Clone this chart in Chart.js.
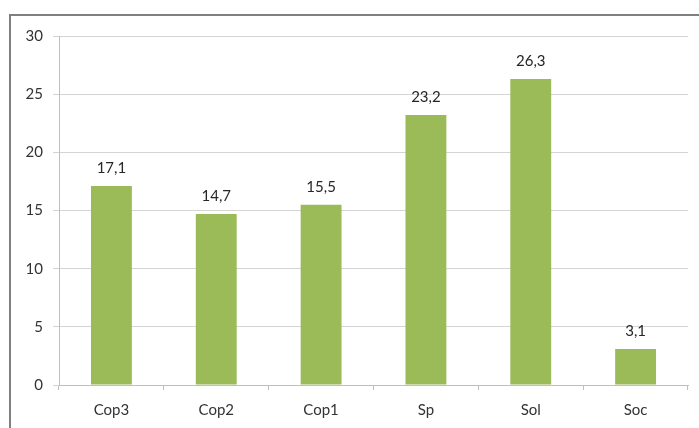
<!DOCTYPE html>
<html>
<head>
<meta charset="utf-8">
<script src="https://cdn.jsdelivr.net/npm/chart.js@4/dist/chart.umd.min.js"></script>
<style>
  html, body { margin: 0; padding: 0; background: #fff; }
  #wrap { position: relative; width: 699px; height: 428px; overflow: hidden; }
  #frame { position: absolute; left: 9px; top: 14px; width: 720px; height: 440px;
           border-left: 2px solid #7f7f7f; border-top: 2px solid #7f7f7f; box-sizing: border-box; }
  canvas { position: absolute; left: 0; top: 0; }
</style>
</head>
<body>
<div id="wrap">
  <div id="frame"></div>
  <canvas id="c" width="699" height="428"></canvas>
</div>
<script>
const categories = ['Cop3', 'Cop2', 'Cop1', 'Sp', 'Sol', 'Soc'];
const values = [17.1, 14.7, 15.5, 23.2, 26.3, 3.1];
const yTicks = [0, 5, 10, 15, 20, 25, 30];

const fmt = v => v.toFixed(1).replace('.', ',');
const FONT = 'Lato, "Open Sans", sans-serif';

// Value labels centred above each bar
const valueLabels = {
  id: 'valueLabels',
  afterDatasetsDraw(chart) {
    const ctx = chart.ctx;
    const meta = chart.getDatasetMeta(0);
    ctx.save();
    ctx.font = '15px ' + FONT;
    ctx.fillStyle = '#262626';
    ctx.textAlign = 'center';
    ctx.textBaseline = 'middle';
    meta.data.forEach((bar, i) => {
      ctx.fillText(fmt(values[i]), bar.x, bar.y - 18);
    });
    ctx.restore();
  }
};

new Chart(document.getElementById('c'), {
  type: 'bar',
  data: {
    labels: categories,
    datasets: [{
      data: values,
      backgroundColor: '#9BBB59',
      borderWidth: 0,
      categoryPercentage: 1,
      barPercentage: 0.39
    }]
  },
  options: {
    responsive: false,
    animation: false,
    devicePixelRatio: 1,
    layout: { padding: { left: 0, right: 11, top: 36, bottom: 0 } },
    plugins: { legend: { display: false }, tooltip: { enabled: false } },
    scales: {
      x: {
        offset: true,
        grid: { offset: true, drawOnChartArea: false, drawTicks: true, tickLength: 5, color: '#bfbfbf' },
        border: { color: '#bfbfbf', width: 1 },
        ticks: { color: '#333333', font: { family: FONT, size: 15 }, padding: 11 },
        afterFit(scale) { scale.height = 43; }
      },
      y: {
        min: 0, max: 30,
        afterBuildTicks(scale) { scale.ticks = yTicks.map(v => ({ value: v })); },
        grid: { color: '#d4d4d4', tickLength: 6, drawTicks: true },
        border: { color: '#bfbfbf', width: 1 },
        ticks: { color: '#333333', font: { family: FONT, size: 15 }, padding: 10 },
        afterFit(scale) { scale.width = 59; }
      }
    }
  },
  plugins: [valueLabels]
});
</script>
</body>
</html>
